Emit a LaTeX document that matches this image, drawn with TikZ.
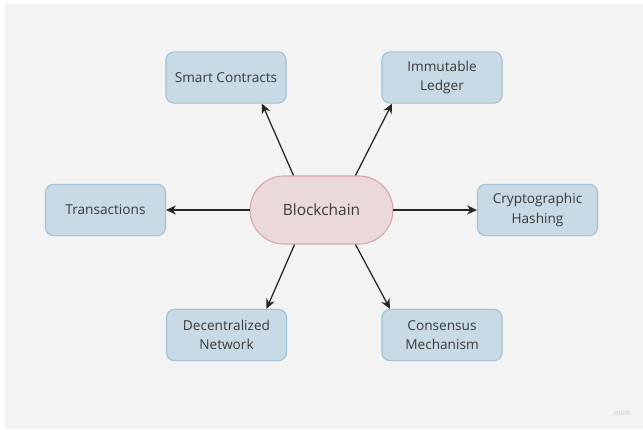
\documentclass[tikz,border=0pt]{standalone}
\usepackage{fontspec}
\setmainfont{Open Sans}
\usepackage{xcolor}
\usetikzlibrary{arrows.meta, positioning, calc}

\definecolor{bgcol}{HTML}{F3F3F3}
\definecolor{boxfill}{HTML}{C7DAE6}
\definecolor{boxdraw}{HTML}{A3C1D5}
\definecolor{hubfill}{HTML}{EBD8D9}
\definecolor{hubdraw}{HTML}{D8A8AA}
\definecolor{txtcol}{HTML}{3A3A3A}

\begin{document}
\begin{tikzpicture}[
    x=0.025cm, y=-0.025cm,
    box/.style={draw=boxdraw, fill=boxfill, line width=0.8pt, rounded corners=0.2cm, minimum width=3cm, minimum height=1.28cm, align=center, font=\fontsize{9.7}{14}\selectfont, text=txtcol, inner sep=2pt},
    hubbox/.style={box, draw=hubdraw, fill=hubfill, minimum width=3.57cm, minimum height=1.7cm, rounded corners=0.85cm, font=\fontsize{11}{13}\selectfont},
    arr/.style={-{Stealth[length=7pt, width=6.5pt]}, line width=0.9pt, draw=black!85},
]

% Background
\useasboundingbox (0,0) rectangle (643,429);
\fill[white] (0,0) rectangle (643,429);
\fill[bgcol] (5,4) rectangle (643,429);

% Hub
\node[hubbox] (chain) at (321.5,210) {Blockchain};

% Spokes
\node[box] (smart) at (226,77.5) {Smart Contracts};
\node[box] (ledger) at (442,77.5) {Immutable\\Ledger};
\node[box] (trans) at (105.5,210) {Transactions};
\node[box] (hashing) at (537.5,210) {Cryptographic\\Hashing};
\node[box] (network) at (226.5,335) {Decentralized\\Network};
\node[box] (consensus) at (442,335) {Consensus\\Mechanism};

% Arrows — hub to spokes
\draw[arr] ($(chain.north)+(-28,0)$) -- ($(smart.south)+(36,0)$);
\draw[arr] ($(chain.north)+(34,0)$) -- ($(ledger.south)+(-50,0)$);
\draw[arr] (chain.west) -- (trans.east);
\draw[arr] (chain.east) -- (hashing.west);
\draw[arr] ($(chain.south)+(-27,0)$) -- ($(network.north)+(40,0)$);
\draw[arr] ($(chain.south)+(34,0)$) -- ($(consensus.north)+(-52,0)$);

% Watermark
\node[font=\bfseries\fontsize{5}{6}\selectfont, text=black!15] (miro) at (622,413) {miro};

\end{tikzpicture}
\end{document}
